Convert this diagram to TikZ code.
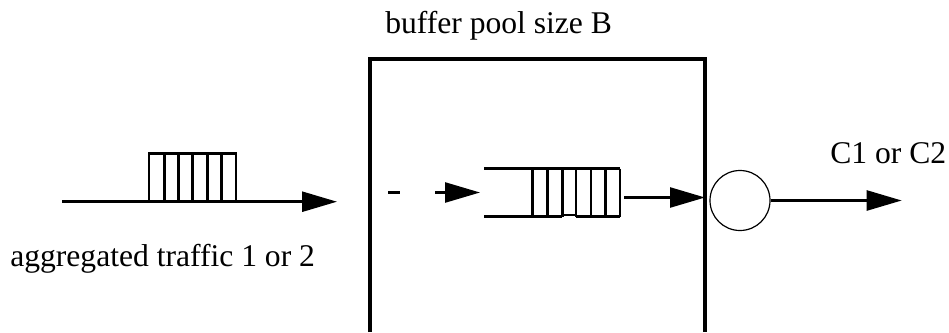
\documentclass[tikz,border=0pt]{standalone}
\usepackage{fontspec}
\setmainfont{Liberation Serif}
\usetikzlibrary{arrows.meta}
\begin{document}
\begin{tikzpicture}[x=0.75pt,y=-0.75pt,
  thick line/.style={line width=1.9pt},
  boxline/.style={line width=2.3pt, line join=miter},
  arr/.style={thick line, -{Triangle[length=26.25pt,width=15pt]}},
  lbl/.style={font=\fontsize{23.7}{28}\selectfont, inner sep=0pt, anchor=base west},
  server/.style={draw, circle, line width=0.9pt, minimum size=45pt, inner sep=0pt}]
\useasboundingbox (0,0) rectangle (949,332);

% labels
\node[lbl] (title) at (385,33) {buffer pool size B};
\node[lbl] (inlbl) at (10,266.7) {aggregated traffic 1 or 2};
\node[lbl] (outlbl) at (830,163) {C1 or C2};

% buffer pool box (open at the bottom)
\draw[boxline] (370,332) -- (370,59) -- (705,59) -- (705,332);

% incoming traffic
\coordinate (inA) at (62,201.7);
\coordinate (inB) at (337,201.7);
\draw[arr] (inA) -- (inB);
\draw[thick line] (149,201.7) rectangle (236,153.3);
\foreach \x in {164.3,178.3,192.7,207.3,221.7}
  \draw[thick line] (\x,201.7) -- (\x,153.3);

% inner dash and arrow
\coordinate (dA) at (388,192.5);
\coordinate (dB) at (400,192.5);
\draw[thick line] (dA) -- (dB);
\coordinate (qA) at (435,192.5);
\coordinate (qB) at (480,192.5);
\draw[arr] (qA) -- (qB);

% queue
\draw[thick line] (484,168.7) -- (620,168.7);
\draw[thick line] (484,216.7) -- (562.3,216.7);
\draw[thick line] (562.3,215.2) -- (576,215.2);
\draw[thick line] (576,216.7) -- (620,216.7);
\foreach \x in {532.7,547.7,562.3,576,591,605.3,620}
  \draw[thick line] (\x,168.7) -- (\x,216.7);

% queue to server
\coordinate (qOut) at (624,197.5);
\coordinate (qIn) at (705,197.5);
\draw[arr] (qOut) -- (qIn);

% server
\node[server] (srv) at (740,200.5) {};
\coordinate (outEnd) at (901.7,200.5);
\draw[arr] (srv.east) -- (outEnd);
\end{tikzpicture}
\end{document}
